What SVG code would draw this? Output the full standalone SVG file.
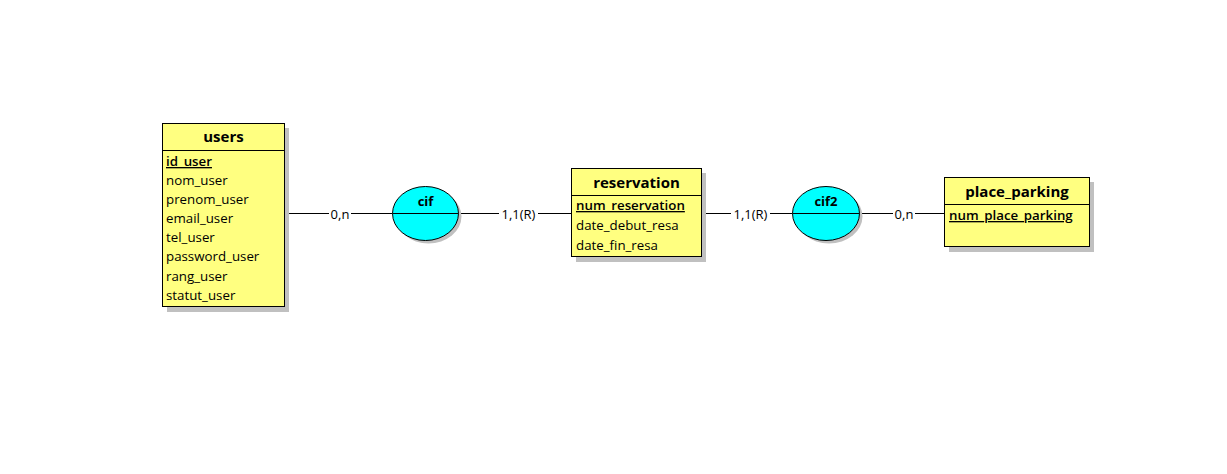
<svg xmlns="http://www.w3.org/2000/svg" width="1227" height="474" viewBox="0 0 1227 474">
<style>
.shadow{fill:#c0c0c0;stroke:none}
.ent{fill:#ffff80;stroke:#000;stroke-width:1}
.rel{fill:#00ffff;stroke:#000;stroke-width:1}
.sep{stroke:#000;stroke-width:1}
.title{font-family:"Open Sans","Liberation Sans",sans-serif;font-size:15px;font-weight:bold;fill:#000;text-anchor:middle}
.attr{font-family:"Open Sans","Liberation Sans",sans-serif;font-size:13.3px;fill:#000}
.key{text-decoration:underline;font-weight:600}
.rtitle{font-family:"Open Sans","Liberation Sans",sans-serif;font-size:13px;font-weight:bold;fill:#000;text-anchor:middle}
.card{font-family:"Open Sans","Liberation Sans",sans-serif;font-size:13px;fill:#000;text-anchor:middle}
.lbg{fill:#fff;stroke:none}
.link{stroke:#000;stroke-width:1;fill:none}
</style>
<rect width="1227" height="474" fill="#fff"/>
<g id="connectors">
<line class="link" x1="289" y1="213.5" x2="392" y2="213.5"/>
<rect class="lbg" x="329" y="205" width="22" height="17"/>
<text class="card" x="340" y="218.5">0,n</text>
<line class="link" x1="458" y1="213.5" x2="571" y2="213.5"/>
<rect class="lbg" x="499" y="205" width="39" height="17"/>
<text class="card" x="518.5" y="218.5">1,1(R)</text>
<line class="link" x1="706" y1="213.5" x2="792" y2="213.5"/>
<rect class="lbg" x="731" y="205" width="39" height="17"/>
<text class="card" x="750.5" y="218.5">1,1(R)</text>
<line class="link" x1="859" y1="213.5" x2="944" y2="213.5"/>
<rect class="lbg" x="893" y="205" width="22" height="17"/>
<text class="card" x="904" y="218.5">0,n</text>
</g>
<g id="users">
<rect class="shadow" x="167" y="128" width="122" height="184"/>
<rect class="ent" x="162.5" y="123.5" width="122" height="183"/>
<line class="sep" x1="162.5" y1="150.5" x2="284.5" y2="150.5"/>
<text class="title" x="223.5" y="142">users</text>
<text class="attr key" x="166" y="166">id_user</text>
<text class="attr" x="166" y="185">nom_user</text>
<text class="attr" x="166" y="204">prenom_user</text>
<text class="attr" x="166" y="223">email_user</text>
<text class="attr" x="166" y="242">tel_user</text>
<text class="attr" x="166" y="261">password_user</text>
<text class="attr" x="166" y="281">rang_user</text>
<text class="attr" x="166" y="300">statut_user</text>
</g>
<g id="cif">
<ellipse class="shadow" cx="428.5" cy="216.5" rx="33" ry="27"/>
<ellipse class="rel" cx="425.5" cy="213.5" rx="33" ry="27"/>
<line class="sep" x1="392.5" y1="213.5" x2="458.5" y2="213.5"/>
<text class="rtitle" x="425.5" y="206">cif</text>
</g>
<g id="reservation">
<rect class="shadow" x="576" y="173" width="130" height="89"/>
<rect class="ent" x="571.5" y="168.5" width="130" height="88"/>
<line class="sep" x1="571.5" y1="195.5" x2="701.5" y2="195.5"/>
<text class="title" x="636.5" y="188">reservation</text>
<text class="attr key" x="576" y="210">num_reservation</text>
<text class="attr" x="576" y="230">date_debut_resa</text>
<text class="attr" x="576" y="250">date_fin_resa</text>
</g>
<g id="cif2">
<ellipse class="shadow" cx="829" cy="216.5" rx="33.5" ry="27"/>
<ellipse class="rel" cx="826" cy="213.5" rx="33.5" ry="27"/>
<line class="sep" x1="792.5" y1="213.5" x2="859.5" y2="213.5"/>
<text class="rtitle" x="826" y="206">cif2</text>
</g>
<g id="place_parking">
<rect class="shadow" x="949" y="182" width="145" height="70"/>
<rect class="ent" x="944.5" y="177.5" width="145" height="69"/>
<line class="sep" x1="944.5" y1="204.5" x2="1089.5" y2="204.5"/>
<text class="title" x="1017" y="197">place_parking</text>
<text class="attr key" x="949" y="220">num_place_parking</text>
</g>
</svg>
